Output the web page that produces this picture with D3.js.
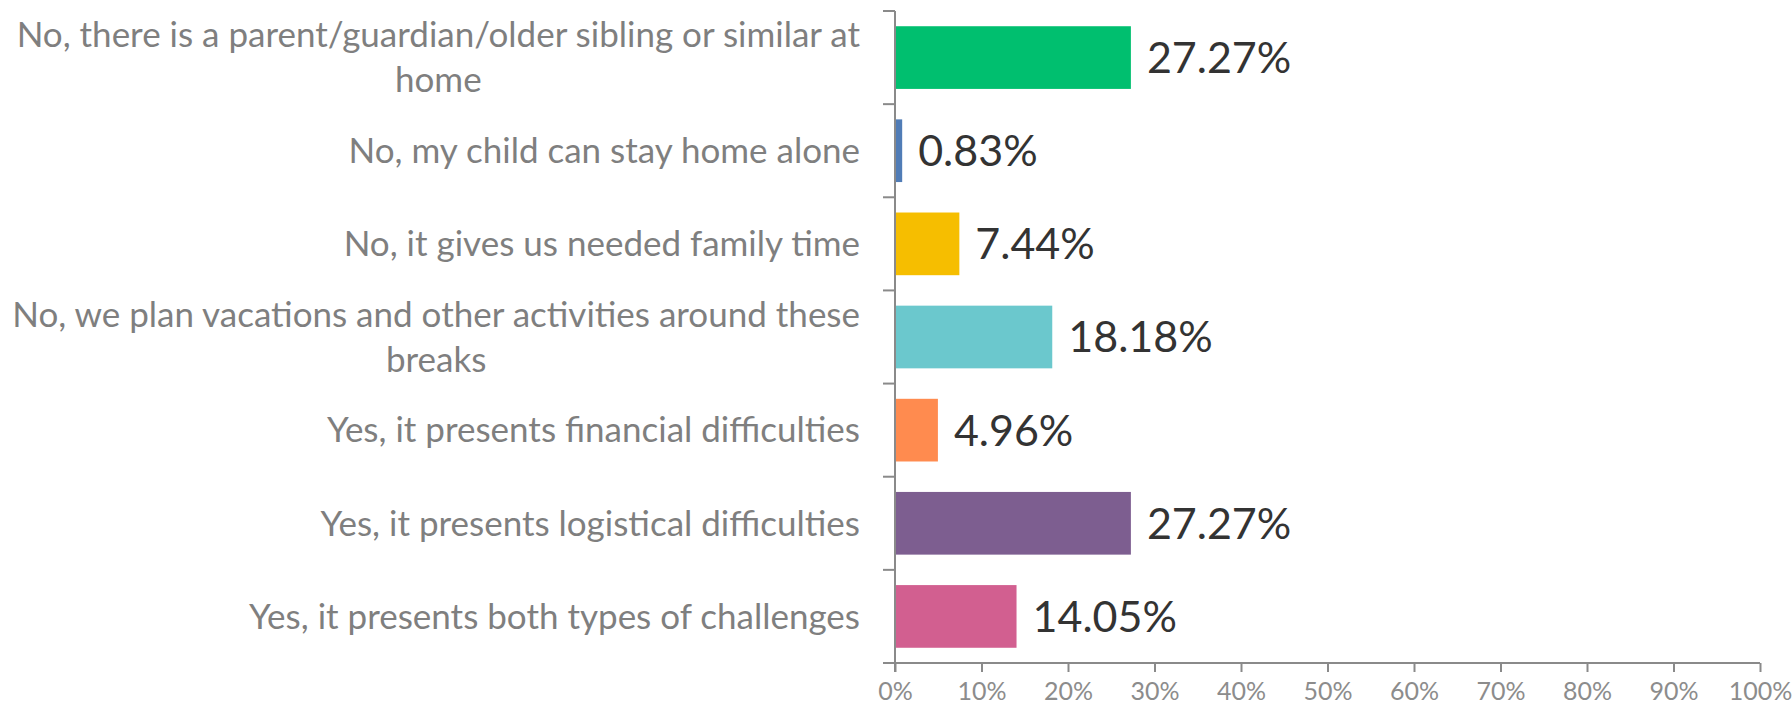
<!DOCTYPE html>
<html>
<head>
<meta charset="utf-8">
<script src="https://cdn.jsdelivr.net/npm/d3@7"></script>
<style>
  html, body { margin: 0; padding: 0; background: #ffffff; }
  svg { display: block; }
</style>
</head>
<body>
<svg id="chart" width="1792" height="708"></svg>
<script>
const categories = [
  "No, there is a parent/guardian/older sibling or similar at home",
  "No, my child can stay home alone",
  "No, it gives us needed family time",
  "No, we plan vacations and other activities around these breaks",
  "Yes, it presents financial difficulties",
  "Yes, it presents logistical difficulties",
  "Yes, it presents both types of challenges"
];
const values = [27.27, 0.83, 7.44, 18.18, 4.96, 27.27, 14.05];
const colors = ["#00BF6F", "#507CB6", "#F6BE00", "#6BC8CD", "#FF8B4F", "#7D5E90", "#D25F90"];
const tickValues = [0, 10, 20, 30, 40, 50, 60, 70, 80, 90, 100];

const FONT = "Lato, 'Open Sans', sans-serif";
const svg = d3.select("#chart");

const pLeft = 895, pRight = 1760, pTop = 11, pBottom = 663;

const x = d3.scaleLinear().domain([0, 100]).range([pLeft, pRight]);
const y = d3.scaleBand().domain(categories).range([pTop, pBottom])
  .paddingInner(0.327).paddingOuter(0.1635);

const axisColor = "#8a8a8a";

// bars
svg.append("g").selectAll("rect").data(categories).join("rect")
  .attr("x", x(0))
  .attr("y", d => y(d))
  .attr("width", (d, i) => x(values[i]) - x(0))
  .attr("height", y.bandwidth())
  .attr("fill", (d, i) => colors[i]);

// value labels
svg.append("g").selectAll("text").data(categories).join("text")
  .attr("x", (d, i) => x(values[i]) + 16)
  .attr("y", d => y(d) + y.bandwidth() / 2)
  .attr("dy", "0.36em")
  .attr("font-family", FONT)
  .attr("font-size", 43)
  .attr("fill", "#333333")
  .text((d, i) => values[i].toFixed(2) + "%");

// x axis
const xAxis = d3.axisBottom(x).tickValues(tickValues).tickSize(9).tickPadding(10)
  .tickFormat(d => d + "%");
const gx = svg.append("g").attr("transform", `translate(0,${pBottom})`).call(xAxis);
gx.select(".domain").attr("d", `M${pLeft - 12},0H${pRight}`).attr("stroke", axisColor).attr("stroke-width", 2);
gx.selectAll(".tick line").attr("stroke", axisColor).attr("stroke-width", 2);
gx.selectAll(".tick text").attr("font-family", FONT).attr("font-size", 25).attr("fill", "#8c8c8c");

// y axis line + boundary ticks
const boundaries = d3.range(categories.length + 1).map(i => pTop + i * y.step());
const gy = svg.append("g");
gy.append("line").attr("x1", pLeft).attr("x2", pLeft).attr("y1", pTop).attr("y2", pBottom + 9)
  .attr("stroke", axisColor).attr("stroke-width", 2);
gy.selectAll("line.bt").data(boundaries).join("line").attr("class", "bt")
  .attr("x1", pLeft - 12).attr("x2", pLeft).attr("y1", d => d).attr("y2", d => d)
  .attr("stroke", axisColor).attr("stroke-width", 2);

// category labels with wrapping
const labelRight = 860, maxW = 860, lineH = 45;
const lg = svg.append("g");
categories.forEach((c, i) => {
  const cy = y(c) + y.bandwidth() / 2;
  const t = lg.append("text").attr("font-family", FONT).attr("font-size", 35).attr("fill", "#7f7f7f");
  const words = c.split(" ");
  const lines = [];
  let cur = [];
  const probe = t.append("tspan");
  words.forEach(w => {
    const test = cur.concat([w]).join(" ");
    probe.text(test);
    if (probe.node().getComputedTextLength() > maxW && cur.length) {
      lines.push(cur.join(" "));
      cur = [w];
    } else cur.push(w);
  });
  lines.push(cur.join(" "));
  probe.remove();
  if (lines.length === 1) {
    t.attr("text-anchor", "end").attr("x", labelRight).attr("y", cy).attr("dy", "0.35em").text(lines[0]);
  } else {
    let W = 0;
    const spans = lines.map((l, k) => t.append("tspan").text(l));
    spans.forEach(s => { W = Math.max(W, s.node().getComputedTextLength()); });
    const cx = labelRight - W / 2;
    const y0 = cy - (lines.length - 1) * lineH / 2;
    t.attr("text-anchor", "middle");
    spans.forEach((s, k) => s.attr("x", cx).attr("y", y0 + k * lineH).attr("dy", "0.35em"));
  }
});
</script>
</body>
</html>
